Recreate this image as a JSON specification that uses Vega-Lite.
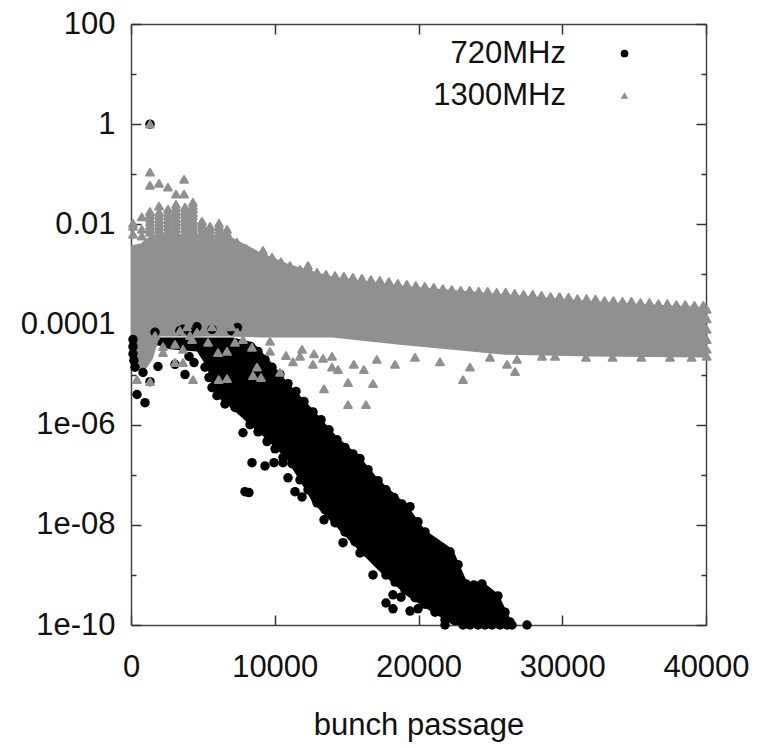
{"$schema":"https://vega.github.io/schema/vega-lite/v6.json","width":575,"height":601,"autosize":"none","padding":{"left":131,"top":24,"right":61,"bottom":123},"background":"white",
"config":{"axis":{"grid":false,"labelFont":"Liberation Sans","labelFontSize":31,"labelColor":"#111","titleFont":"Liberation Sans","titleFontSize":31,"titleFontWeight":"normal","titleColor":"#111","domainColor":"#444","domainWidth":1.5,"tickColor":"#333","tickWidth":1.5,"zindex":1},"view":{"stroke":null}},
"datasets":{
"bandBlack":[{"x":1670,"lo":4e-5,"hi":5.5e-5},{"x":2713,"lo":3.2e-5,"hi":5.5e-5},{"x":4591,"lo":2.9e-5,"hi":5.5e-5},{"x":5287,"lo":1.4e-5,"hi":5.5e-5},{"x":5704,"lo":5e-6,"hi":5.5e-5},{"x":6191,"lo":3.2e-6,"hi":5.5e-5},{"x":7096,"lo":2e-6,"hi":5.5e-5},{"x":8487,"lo":8.7e-7,"hi":4.4e-5},{"x":9461,"lo":5e-7,"hi":2.2e-5},{"x":10852,"lo":2e-7,"hi":7.2e-6},{"x":12661,"lo":2.75e-8,"hi":2e-6},{"x":14330,"lo":8.7e-9,"hi":5.75e-7},{"x":15930,"lo":2.9e-9,"hi":2.3e-7},{"x":17183,"lo":1.26e-9,"hi":8.3e-8},{"x":19200,"lo":3.8e-10,"hi":2.5e-8},{"x":20452,"lo":2.2e-10,"hi":7.9e-9},{"x":22400,"lo":1e-10,"hi":3.2e-9},{"x":23374,"lo":1e-10,"hi":7.2e-10},{"x":24487,"lo":1e-10,"hi":7.2e-10},{"x":25530,"lo":1e-10,"hi":4.2e-10},{"x":26504,"lo":1e-10,"hi":1.15e-10}],
"bandGray":[{"x":0,"lo":2e-5,"hi":3.8e-3},{"x":700,"lo":1.26e-5,"hi":4.2e-3},{"x":1000,"lo":1.26e-5,"hi":5e-3},{"x":1500,"lo":2e-5,"hi":6.3e-3},{"x":2000,"lo":5.75e-5,"hi":6.3e-3},{"x":5500,"lo":5.75e-5,"hi":6.3e-3},{"x":7000,"lo":5.75e-5,"hi":5.5e-3},{"x":9000,"lo":5.5e-5,"hi":2.75e-3},{"x":11000,"lo":5.5e-5,"hi":1.6e-3},{"x":14000,"lo":5.5e-5,"hi":9.1e-4},{"x":18500,"lo":4e-5,"hi":6e-4},{"x":22000,"lo":3.2e-5,"hi":5e-4},{"x":26000,"lo":2.5e-5,"hi":4e-4},{"x":32000,"lo":2.3e-5,"hi":2.9e-4},{"x":40000,"lo":2.2e-5,"hi":2.2e-4}],
"black":[{"x":1322,"y":1},{"x":140,"y":5e-5},{"x":140,"y":3.6e-5},{"x":140,"y":2.6e-5},{"x":200,"y":1.9e-5},{"x":280,"y":1.4e-5},{"x":417,"y":4e-6},{"x":974,"y":2.75e-6},{"x":1878,"y":1.45e-5},{"x":3757,"y":1e-5},{"x":4035,"y":2.3e-5},{"x":4383,"y":1.74e-5},{"x":3061,"y":1.6e-5},{"x":835,"y":1.1e-5},{"x":1322,"y":7.2e-6},{"x":7791,"y":6.9e-7},{"x":8417,"y":1.74e-7},{"x":9322,"y":1.5e-7},{"x":9948,"y":1.74e-7},{"x":10574,"y":1.74e-7},{"x":10922,"y":8.7e-8},{"x":7930,"y":4.6e-8},{"x":8209,"y":4.4e-8},{"x":11409,"y":4.6e-8},{"x":11896,"y":3.6e-8},{"x":12939,"y":2.75e-8},{"x":13426,"y":1.26e-8},{"x":14191,"y":1.1e-8},{"x":14748,"y":4.4e-9},{"x":15583,"y":5e-9},{"x":15930,"y":2.75e-9},{"x":16209,"y":3.5e-9},{"x":16835,"y":1e-9},{"x":17739,"y":1e-9},{"x":18226,"y":4e-10},{"x":18783,"y":3.6e-10},{"x":19130,"y":5.5e-10},{"x":17739,"y":2.75e-10},{"x":18226,"y":2.1e-10},{"x":19409,"y":1.9e-10},{"x":19965,"y":2.1e-10},{"x":19896,"y":3.6e-10},{"x":20452,"y":2.9e-10},
{"x":3617,"y":8e-5},{"x":4100,"y":7e-5},{"x":4590,"y":9e-5},{"x":3400,"y":7.5e-5},{"x":5635,"y":8e-5},{"x":7000,"y":7.5e-5},{"x":1670,"y":7e-5},{"x":7400,"y":8.7e-5},
{"x":8835,"y":2.9e-5},{"x":9322,"y":2e-5},{"x":9809,"y":1.4e-5},{"x":10365,"y":1e-5},{"x":10922,"y":6.6e-6},{"x":11478,"y":4.6e-6},{"x":12035,"y":2.9e-6},{"x":12661,"y":1.8e-6},{"x":13217,"y":1.26e-6},{"x":13774,"y":7.9e-7},{"x":14330,"y":5e-7},{"x":14887,"y":3.5e-7},{"x":15443,"y":2.6e-7},{"x":15930,"y":2.1e-7},{"x":16487,"y":1.26e-7},{"x":17183,"y":7.6e-8},{"x":17739,"y":5e-8},{"x":18296,"y":3.5e-8},{"x":18852,"y":2.6e-8},{"x":19409,"y":2.3e-8},{"x":19965,"y":1.15e-8},{"x":20452,"y":7.2e-9},{"x":21009,"y":4.4e-9},{"x":21565,"y":3.5e-9},{"x":22191,"y":2.9e-9},{"x":22748,"y":1.6e-9},{"x":23304,"y":6.6e-10},{"x":23861,"y":6.3e-10},{"x":24417,"y":6.6e-10},{"x":24974,"y":3.8e-10},{"x":25530,"y":3.8e-10},{"x":26017,"y":1.8e-10},{"x":26365,"y":1.15e-10},
{"x":5148,"y":1.4e-5},{"x":5426,"y":8.7e-6},{"x":5635,"y":5.5e-6},{"x":5983,"y":3.8e-6},{"x":6539,"y":2.6e-6},{"x":7235,"y":2.2e-6},{"x":8278,"y":1e-6},{"x":8835,"y":7.2e-7},{"x":9461,"y":4.6e-7},{"x":10017,"y":3.3e-7},{"x":10574,"y":2.2e-7},{"x":11200,"y":1.66e-7},{"x":11757,"y":7.9e-8},{"x":12313,"y":5e-8},{"x":12870,"y":3.2e-8},{"x":13496,"y":2e-8},{"x":14191,"y":1.26e-8},{"x":14887,"y":7.2e-9},{"x":15583,"y":4.6e-9},{"x":16278,"y":2.9e-9},{"x":16974,"y":2.2e-9},{"x":17670,"y":1.26e-9},{"x":18365,"y":7.2e-10},{"x":19061,"y":5e-10},{"x":19757,"y":3.5e-10},{"x":20452,"y":2.6e-10},{"x":21148,"y":1.8e-10},{"x":21843,"y":1.26e-10},
{"x":21843,"y":1e-10},{"x":23096,"y":1e-10},{"x":23583,"y":1e-10},{"x":24139,"y":1e-10},{"x":24626,"y":1e-10},{"x":25113,"y":1e-10},{"x":25669,"y":1e-10},{"x":26157,"y":1e-10},{"x":26504,"y":1e-10},{"x":27548,"y":1e-10}],
"gray":[{"x":1322,"y":1},{"x":1320,"y":0.11},{"x":1320,"y":0.06},{"x":1950,"y":0.066},{"x":2570,"y":0.055},{"x":3690,"y":0.079},{"x":3130,"y":0.04},{"x":3690,"y":0.04},{"x":1950,"y":0.023},{"x":750,"y":0.014},{"x":140,"y":0.0105},
{"x":140,"y":0.0091},{"x":140,"y":0.0063},{"x":750,"y":0.0079},{"x":750,"y":0.0058},
{"x":1320,"y":0.018},{"x":1320,"y":0.0155},{"x":1320,"y":0.013},{"x":1320,"y":0.0112},{"x":1320,"y":0.0095},{"x":1320,"y":0.0081},{"x":1320,"y":0.0069},{"x":1950,"y":0.0174},{"x":1950,"y":0.0148},{"x":1950,"y":0.0126},{"x":1950,"y":0.0107},{"x":1950,"y":0.0091},{"x":1950,"y":0.0078},{"x":1950,"y":0.0066},{"x":2570,"y":0.02},{"x":2570,"y":0.017},{"x":2570,"y":0.0145},{"x":2570,"y":0.0123},{"x":2570,"y":0.0105},{"x":2570,"y":0.0089},{"x":2570,"y":0.0076},{"x":2570,"y":0.00575},{"x":3130,"y":0.025},{"x":3130,"y":0.0212},{"x":3130,"y":0.018},{"x":3130,"y":0.0153},{"x":3130,"y":0.013},{"x":3130,"y":0.0111},{"x":3130,"y":0.0095},{"x":3130,"y":0.0081},{"x":3130,"y":0.0069},{"x":3760,"y":0.022},{"x":3760,"y":0.0188},{"x":3760,"y":0.016},{"x":3760,"y":0.0135},{"x":3760,"y":0.0115},{"x":3760,"y":0.0098},{"x":3760,"y":0.0083},{"x":3760,"y":0.0071},{"x":3760,"y":0.006},{"x":4310,"y":0.0275},{"x":4310,"y":0.0235},{"x":4310,"y":0.02},{"x":4310,"y":0.017},{"x":4310,"y":0.0145},{"x":4310,"y":0.0123},{"x":4310,"y":0.0105},{"x":4310,"y":0.0089},{"x":4310,"y":0.0076},{"x":4310,"y":0.0066},{"x":4940,"y":0.0115},{"x":4940,"y":0.0098},{"x":4940,"y":0.0083},{"x":4940,"y":0.0071},{"x":4940,"y":0.006},{"x":5500,"y":0.0091},{"x":5500,"y":0.0078},{"x":5500,"y":0.0066},{"x":6120,"y":0.0105},{"x":6120,"y":0.0089},{"x":6120,"y":0.0076},{"x":6120,"y":0.0065},{"x":6680,"y":0.0079},{"x":6680,"y":0.0067},
{"x":7370,"y":0.0044},{"x":8000,"y":0.0033},{"x":8630,"y":0.0023},{"x":9180,"y":0.003},{"x":9180,"y":0.0026},{"x":9180,"y":0.0023},{"x":9810,"y":0.0022},{"x":10430,"y":0.0018},{"x":11060,"y":0.0015},{"x":11760,"y":0.00126},{"x":12310,"y":0.0015},{"x":12310,"y":0.0013},{"x":12310,"y":0.00115},{"x":12940,"y":0.0011},{"x":13560,"y":0.001},{"x":14190,"y":0.00095},
{"x":14810,"y":9.1e-4},{"x":15440,"y":8.7e-4},{"x":16060,"y":8.3e-4},{"x":16690,"y":7.9e-4},{"x":17310,"y":7.6e-4},{"x":17940,"y":7.2e-4},{"x":18560,"y":6.6e-4},{"x":19190,"y":6.3e-4},{"x":19810,"y":6e-4},{"x":20440,"y":5.75e-4},{"x":21060,"y":5.5e-4},{"x":21690,"y":5.2e-4},{"x":22310,"y":5e-4},{"x":22940,"y":4.8e-4},{"x":23560,"y":4.8e-4},{"x":24190,"y":4.6e-4},{"x":24810,"y":4.6e-4},{"x":25440,"y":4.4e-4},{"x":26060,"y":4.4e-4},{"x":26690,"y":4.2e-4},{"x":27310,"y":4e-4},{"x":27940,"y":4e-4},{"x":28560,"y":3.8e-4},{"x":29190,"y":3.6e-4},{"x":29810,"y":3.6e-4},{"x":30440,"y":3.5e-4},{"x":31060,"y":3.3e-4},{"x":31690,"y":3.3e-4},{"x":32310,"y":3.2e-4},{"x":32940,"y":3e-4},{"x":33560,"y":3e-4},{"x":34190,"y":2.9e-4},{"x":34810,"y":2.9e-4},{"x":35440,"y":2.75e-4},{"x":36060,"y":2.75e-4},{"x":36690,"y":2.6e-4},{"x":37310,"y":2.6e-4},{"x":37940,"y":2.5e-4},{"x":38560,"y":2.5e-4},{"x":39190,"y":2.4e-4},{"x":39810,"y":2.4e-4},
{"x":40050,"y":2e-4},{"x":40050,"y":1.3e-4},{"x":40050,"y":8e-5},{"x":40050,"y":5e-5},{"x":40050,"y":3.2e-5},{"x":40050,"y":2.3e-5},
{"x":3060,"y":4e-5},{"x":2226,"y":3.6e-5},{"x":2226,"y":2.75e-5},{"x":3617,"y":3.2e-5},{"x":3060,"y":1.74e-5},{"x":3617,"y":1.74e-5},{"x":4313,"y":7.9e-6},{"x":4243,"y":5e-5},{"x":5357,"y":4.4e-5},{"x":6052,"y":2.75e-5},{"x":6678,"y":2.9e-5},{"x":7235,"y":4.4e-5},{"x":7791,"y":5e-5},{"x":8417,"y":3.5e-5},{"x":8765,"y":1.4e-5},{"x":8487,"y":9.5e-6},{"x":9043,"y":8.7e-6},{"x":6678,"y":8.3e-6},{"x":10365,"y":1.1e-5},{"x":9670,"y":2.9e-5},{"x":9670,"y":4.6e-5},{"x":10783,"y":2.4e-5},{"x":11270,"y":1.8e-5},{"x":11896,"y":3.2e-5},{"x":11757,"y":2.3e-5},{"x":12661,"y":1.6e-5},{"x":12730,"y":2.6e-5},{"x":13357,"y":2.1e-5},{"x":13983,"y":2.3e-5},{"x":13983,"y":1.4e-5},{"x":14400,"y":1.26e-5},{"x":13426,"y":5.2e-6},{"x":1320,"y":7.2e-6},{"x":417,"y":7.9e-6},{"x":15096,"y":2.5e-6},{"x":16348,"y":2.5e-6},{"x":15096,"y":6.9e-6},{"x":16835,"y":6.6e-6},{"x":23096,"y":7.9e-6},{"x":6100,"y":7.9e-6},{"x":15500,"y":1.6e-5},{"x":16200,"y":1.26e-5},{"x":17100,"y":2e-5},{"x":18365,"y":1.6e-5},{"x":19757,"y":2.2e-5},{"x":21496,"y":1.8e-5},{"x":23583,"y":1.4e-5},{"x":24974,"y":2.2e-5},{"x":26157,"y":1.6e-5},{"x":26713,"y":1.15e-5},{"x":26852,"y":2e-5},{"x":28591,"y":2.3e-5},{"x":31652,"y":2.2e-5},{"x":29500,"y":2.3e-5},{"x":33500,"y":2.2e-5},{"x":35500,"y":2.2e-5},{"x":37500,"y":2.2e-5},{"x":39000,"y":2.2e-5},
{"x":3400,"y":7.5e-5},{"x":3900,"y":9e-5},{"x":4590,"y":7e-5},{"x":5635,"y":9e-5},{"x":7000,"y":9e-5},{"x":1670,"y":6e-5},{"x":7400,"y":7e-5},{"x":4100,"y":6e-5}]},
"resolve":{"axis":{"x":"independent","y":"independent"}},
"layer":[
{"data":{"name":"bandBlack"},"mark":{"type":"area","color":"#000"},"encoding":{
"x":{"field":"x","type":"quantitative","scale":{"domain":[0,40000],"nice":false,"zero":false},"axis":{"orient":"bottom","values":[0,10000,20000,30000,40000],"format":"d","tickSize":-10,"labelPadding":37,"title":"bunch passage","titlePadding":28,"labelFlush":false}},
"y":{"field":"hi","type":"quantitative","scale":{"type":"log","domain":[1e-10,100],"nice":false},"axis":{"orient":"left","values":[100,1,0.01,0.0001,1e-6,1e-8,1e-10],"tickSize":-10,"labelPadding":26,"title":null,"labelExpr":"datum.value==1e-6?'1e-06':datum.value==1e-8?'1e-08':datum.value==1e-10?'1e-10':datum.value==0.0001?'0.0001':datum.value==0.01?'0.01':datum.value==1?'1':'100'"}},
"y2":{"field":"lo"}}},
{"data":{"name":"bandGray"},"mark":{"type":"area","color":"#909090"},"encoding":{
"x":{"field":"x","type":"quantitative","axis":{"orient":"top","values":[0,10000,20000,30000,40000],"tickSize":-10,"labels":false,"title":null}},
"y":{"field":"hi","type":"quantitative","axis":{"orient":"left","values":[10,0.1,0.001,1e-5,1e-7,1e-9],"tickSize":-5,"labels":false,"title":null,"domain":false}},
"y2":{"field":"lo"}}},
{"data":{"name":"black"},"mark":{"type":"point","filled":true,"size":90,"opacity":1},"encoding":{
"x":{"field":"x","type":"quantitative","axis":null},
"y":{"field":"y","type":"quantitative","axis":{"orient":"right","values":[100,1,0.01,0.0001,1e-6,1e-8,1e-10],"tickSize":-10,"labels":false,"title":null}},
"color":{"datum":"720MHz","scale":{"domain":["720MHz","1300MHz"],"range":["#000000","#909090"]},"legend":{"title":null,"orient":"none","legendX":478,"legendY":14,"labelAlign":"right","labelOffset":-74,"labelFont":"Liberation Sans","labelFontSize":31,"labelColor":"#111","symbolSize":60,"rowPadding":10,"labelLimit":300}},
"shape":{"datum":"720MHz","scale":{"domain":["720MHz","1300MHz"],"range":["circle","triangle-up"]},"legend":{"title":null,"orient":"none","legendX":478,"legendY":14,"labelAlign":"right","labelOffset":-74,"labelFont":"Liberation Sans","labelFontSize":31,"labelColor":"#111","symbolSize":60,"rowPadding":10,"labelLimit":300}}}},
{"data":{"name":"gray"},"mark":{"type":"point","filled":true,"size":60,"opacity":1,"stroke":"#909090","strokeWidth":2,"strokeJoin":"round"},"encoding":{
"x":{"field":"x","type":"quantitative","axis":null},
"y":{"field":"y","type":"quantitative","axis":{"orient":"right","values":[10,0.1,0.001,1e-5,1e-7,1e-9],"tickSize":-5,"labels":false,"title":null,"domain":false}},
"color":{"datum":"1300MHz"},
"shape":{"datum":"1300MHz"}}}
]}
